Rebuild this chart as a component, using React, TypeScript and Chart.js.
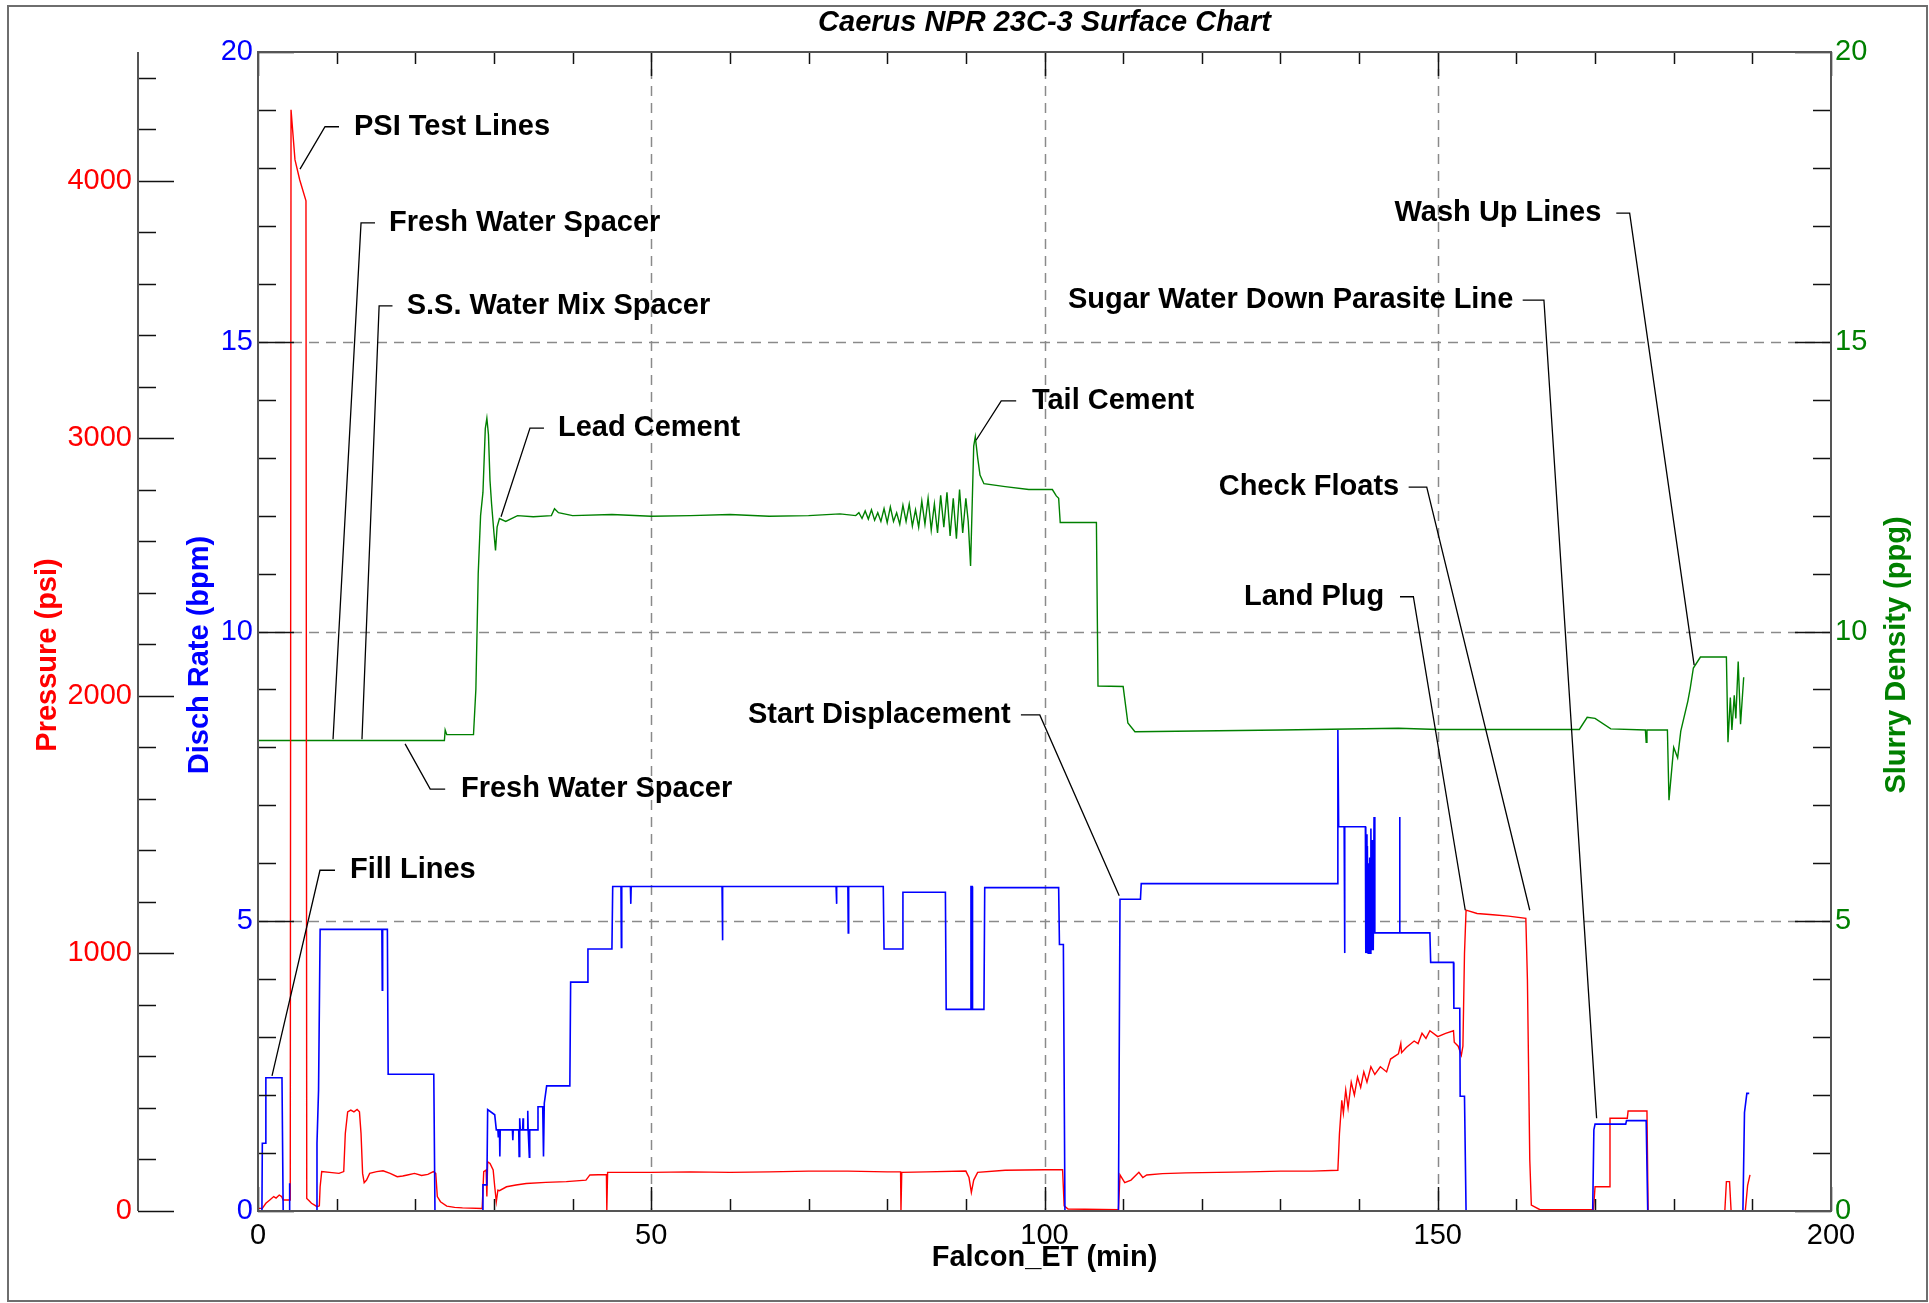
import React, { useEffect, useRef } from "react";
import { Chart, registerables } from "chart.js";

Chart.register(...registerables);

const W = 1929;
const H = 1303;
const FONT = '"Liberation Sans", Arial, Helvetica, sans-serif';

// ---------------- data ----------------
const chartTitle = "Caerus NPR 23C-3 Surface Chart";
const xTitle = "Falcon_ET (min)";
const pressureTitle = "Pressure (psi)";
const rateTitle = "Disch Rate (bpm)";
const densityTitle = "Slurry Density (ppg)";

const xTickLabels = [0, 50, 100, 150, 200];
const pressureTickLabels = [0, 1000, 2000, 3000, 4000];
const rateTickLabels = [0, 5, 10, 15, 20];
const densityTickLabels = [0, 5, 10, 15, 20];

const pressureTime = [
  0, 0.55, 1.0, 1.5, 2.0, 2.3, 2.7, 3.0, 3.2, 4.1, 4.2, 4.7, 5.3, 6.1, 6.2, 6.5, 6.8, 7.2, 7.5, 7.8,
  7.9, 8.1, 9.4, 10.3, 10.9, 11.1, 11.4, 11.8, 12.2, 12.6, 12.9, 13.1, 13.3, 13.5, 13.8, 14.2, 15.1, 15.9, 16.8, 17.7,
  18.4, 19.0, 19.9, 20.8, 21.6, 22.3, 22.6, 22.8, 23.2, 24.0, 25.0, 26.0, 28.5, 28.7, 29.0, 29.1, 29.2, 29.5, 29.9, 30.1,
  30.3, 30.5, 30.7, 31.6, 32.8, 34.1, 36.6, 39.2, 41.7, 42.2, 44.3, 44.35, 44.45, 50, 55, 60, 65, 70, 75, 80,
  81.7, 81.75, 81.85, 85, 90, 90.4, 90.7, 91.0, 91.5, 95, 100, 102.3, 102.5, 103, 109.4, 109.6, 110.2, 111, 112, 112.5,
  113, 115, 118, 122, 126, 130, 134, 137.3, 137.5, 137.8, 138.0, 138.3, 138.6, 139, 139.4, 139.8, 140.2, 140.6, 141, 141.5,
  142, 142.7, 143.5, 144, 145, 145.3, 145.4, 146, 147, 147.5, 148, 148.5, 149, 150, 151, 152, 152.1, 152.6, 153.0, 153.2,
  153.4, 153.6, 155, 157, 159, 161.2, 161.4, 161.7, 161.9, 163, 169.8, 170.0, 171.8, 171.9, 174.1, 174.2, 176.6, 176.75, 186.5, 186.7,
  187.1, 187.3, 189.1, 189.4, 189.7,
];
const pressurePsi = [
  10, 10, 30, 43, 56, 50, 62, 56, 43, 43, 4276, 4082, 4004, 3922, 49, 40, 30, 23, 17, 20,
  94, 153, 149, 146, 153, 301, 385, 392, 385, 394, 385, 301, 146, 110, 120, 146, 153, 156, 146, 133,
  136, 140, 146, 138, 142, 153, 146, 56, 36, 19, 14, 12, 10, 153, 159, 56, 191, 185, 159, 94,
  36, 81, 79, 94, 101, 107, 111, 114, 120, 140, 142, 0, 150, 150, 152, 150, 152, 155, 155, 152,
  152, 0, 150, 152, 155, 130, 72, 120, 150, 158, 160, 160, 20, 8, 5, 140, 110, 120, 150, 130,
  140, 145, 148, 150, 152, 155, 155, 158, 300, 430, 380, 470, 400, 500, 450, 520, 480, 540, 500, 560,
  530, 560, 540, 590, 610, 650, 615, 635, 660, 650, 690, 670, 700, 677, 690, 700, 655, 640, 605, 640,
  1000, 1168, 1155, 1150, 1145, 1136, 900, 200, 23, 5, 5, 94, 94, 360, 360, 388, 388, 0, 0, 114,
  114, 0, 0, 100, 140,
];

const rateTime = [
  0, 0.5, 0.55, 0.95, 1.0, 3.05, 3.2, 3.95, 4.0, 4.05, 7.45, 7.5, 7.7, 7.9, 15.75, 15.8, 15.85, 16.45, 16.55, 22.35,
  22.5, 28.5, 28.6, 29.1, 29.2, 30.1, 30.3, 30.5, 30.55, 30.6, 30.7, 30.75, 30.8, 32.35, 32.4, 32.45, 33.15, 33.2, 33.25, 33.3,
  33.35, 33.65, 33.7, 33.75, 34.25, 34.3, 34.35, 34.45, 34.5, 34.55, 35.55, 35.6, 36.2, 36.3, 36.4, 36.7, 39.65, 39.75, 41.85, 41.95,
  45.0, 45.1, 46.15, 46.2, 46.25, 47.35, 47.4, 47.45, 59.0, 59.05, 59.1, 73.5, 73.55, 73.6, 75.0, 75.05, 75.1, 79.5, 79.6, 81.9,
  82.0, 87.4, 87.5, 90.6, 90.65, 90.8, 90.85, 92.3, 92.4, 101.8, 101.9, 102.4, 102.6, 109.4, 109.6, 112.2, 112.3, 137.2, 137.3, 137.4,
  138.1, 138.15, 138.2, 140.8, 140.85, 140.9, 141.0, 141.05, 141.15, 141.2, 141.3, 141.35, 141.45, 141.5, 141.6, 141.7, 141.8, 141.9, 142.0, 145.1,
  145.15, 145.2, 149.0, 149.1, 152.0, 152.05, 152.8, 152.85, 153.4, 153.6, 169.7, 169.85, 170.0, 173.9, 174.0, 176.5, 176.7, 188.8, 189.0, 189.3,
  189.6,
];
const rateBpm = [
  0, 0, 1.17, 1.17, 2.3, 2.3, 0, 0, 0.48, 0, 0, 1.17, 2.09, 4.86, 4.86, 3.81, 4.86, 4.86, 2.36, 2.36,
  0, 0, 0.45, 0.45, 1.75, 1.66, 1.4, 1.4, 1.28, 1.4, 1.4, 0.94, 1.4, 1.4, 1.22, 1.4, 1.4, 0.94, 1.4, 1.6,
  1.4, 1.4, 1.6, 1.4, 1.4, 1.73, 1.4, 1.4, 0.93, 1.4, 1.4, 1.8, 1.8, 0.94, 1.86, 2.16, 2.16, 3.95, 3.95, 4.52,
  4.52, 5.6, 5.6, 4.55, 5.6, 5.6, 5.3, 5.6, 5.6, 4.67, 5.6, 5.6, 5.3, 5.6, 5.6, 4.8, 5.6, 5.6, 4.52, 4.52,
  5.5, 5.5, 3.48, 3.48, 5.6, 5.6, 3.48, 3.48, 5.58, 5.58, 4.6, 4.6, 0, 0, 5.38, 5.38, 5.65, 5.65, 8.3, 6.63,
  6.63, 4.45, 6.63, 6.63, 4.45, 6.5, 4.45, 6.3, 4.45, 6.0, 4.45, 6.1, 4.45, 6.6, 4.5, 6.4, 4.5, 6.8, 4.8, 4.8,
  6.8, 4.8, 4.8, 4.29, 4.29, 3.5, 3.5, 1.98, 1.98, 0, 0, 1.4, 1.5, 1.5, 1.56, 1.56, 0, 0, 1.7, 2.03,
  2.03,
];

const densityTime = [
  0, 23.7, 23.8, 24.0, 27.4, 27.7, 28.0, 28.3, 28.6, 28.9, 29.1, 29.3, 29.5, 29.7, 30.0, 30.2, 30.4, 30.7, 31.5, 33,
  35, 37.3, 37.7, 38.2, 40, 45, 50, 55, 60, 65, 70, 74, 76, 76.4, 76.8, 77.2, 77.6, 78, 78.4, 78.8,
  79.2, 79.6, 80, 80.4, 80.8, 81.2, 81.6, 82, 82.4, 82.8, 83.2, 83.6, 84, 84.4, 84.8, 85.2, 85.6, 86, 86.4, 86.8,
  87.2, 87.6, 88, 88.4, 88.8, 89.2, 89.6, 90.0, 90.3, 90.6, 91.0, 91.2, 91.5, 91.8, 92.3, 95, 98, 101, 101.5, 101.8,
  102.0, 106.6, 106.8, 110.0, 110.6, 111.5, 130, 145, 150, 168, 169, 170, 172, 176.4, 176.5, 176.6, 179.2, 179.4, 180, 180.5,
  180.9, 181.8, 182.1, 182.5, 183.4, 186.7, 186.9, 187.2, 187.4, 187.7, 187.9, 188.2, 188.5, 188.9,
];
const densityPpg = [
  8.12, 8.12, 8.3, 8.22, 8.22, 9.0, 11.0, 12.0, 12.4, 13.5, 13.68, 13.4, 12.6, 12.2, 11.7, 11.4, 11.8, 11.95, 11.9, 12.0,
  11.98, 12.0, 12.12, 12.05, 12.0, 12.02, 11.99, 12.0, 12.02, 11.99, 12.0, 12.03, 12.0, 12.05, 11.95, 12.08, 11.94, 12.1, 11.92, 12.05,
  11.9, 12.12, 11.88, 12.15, 11.9, 12.05, 11.85, 12.18, 11.9, 12.2, 11.82, 12.1, 11.8, 12.25, 11.85, 12.3, 11.75, 12.2, 11.7, 12.35,
  11.8, 12.4, 11.65, 12.3, 11.6, 12.45, 11.7, 12.3, 11.9, 11.13, 13.2, 13.36, 13.0, 12.7, 12.55, 12.5, 12.45, 12.45, 12.34, 12.3,
  11.88, 11.88, 9.06, 9.05, 8.42, 8.27, 8.3, 8.33, 8.31, 8.31, 8.52, 8.5, 8.32, 8.3, 8.09, 8.3, 8.3, 7.09, 8.0, 7.82,
  8.28, 8.8, 9.02, 9.37, 9.56, 9.56, 8.09, 8.86, 8.3, 8.9, 8.5, 9.48, 8.4, 9.21,
];

// annotations: label, side the text sits on, text edge x / y, leader segment x range, pointer (data units: min, rate/density scale)
const noteText = [
  "PSI Test Lines",
  "Fresh Water Spacer",
  "S.S. Water Mix Spacer",
  "Lead Cement",
  "Tail Cement",
  "Fresh Water Spacer",
  "Fill Lines",
  "Start Displacement",
  "Land Plug",
  "Check Floats",
  "Sugar Water Down Parasite Line",
  "Wash Up Lines",
];
const noteSide = ["L", "L", "L", "L", "L", "L", "L", "R", "R", "R", "R", "R"];
const noteAnchor = [
  [12.2, 18.71, 10.3, 8.52, 5.34, 17.98],
  [16.66, 17.05, 14.88, 13.1, 9.54, 8.14],
  [18.9, 15.62, 17.1, 15.4, 13.22, 8.14],
  [38.14, 13.51, 36.36, 34.58, 30.9, 11.98],
  [98.4, 13.98, 96.4, 94.5, 91.3, 13.3],
  [25.8, 7.28, 23.8, 21.9, 18.7, 8.06],
  [11.7, 5.88, 9.79, 7.88, 1.78, 2.33],
  [95.7, 8.56, 97.0, 99.4, 109.5, 5.44],
  [143.2, 10.6, 145.2, 146.9, 153.5, 5.19],
  [145.1, 12.49, 146.3, 148.6, 161.7, 5.19],
  [159.6, 15.72, 160.8, 163.5, 170.2, 1.6],
  [170.8, 17.22, 172.7, 174.4, 182.6, 9.42],
];

const zip = (xs: number[], ys: number[]) => xs.map((x, i) => ({ x, y: ys[i] }));

const RED = "#ff0000";
const BLUE = "#0000ff";
const GREEN = "#008000";

const decorPlugin = {
  id: "decor",
  beforeDatasetsDraw(chart: any) {
    const { ctx, chartArea: a, scales } = chart;
    const sx = scales.x;
    const sr = scales.rate;
    ctx.save();
    ctx.strokeStyle = "#8a8a8a";
    ctx.lineWidth = 1.5;
    ctx.setLineDash([10, 7]);
    for (const v of xTickLabels) {
      if (v === sx.min || v === sx.max) continue;
      const p = Math.round(sx.getPixelForValue(v)) + 0.5;
      ctx.beginPath();
      ctx.moveTo(p, a.top);
      ctx.lineTo(p, a.bottom);
      ctx.stroke();
    }
    for (const v of rateTickLabels) {
      if (v === sr.min || v === sr.max) continue;
      const p = Math.round(sr.getPixelForValue(v)) + 0.5;
      ctx.beginPath();
      ctx.moveTo(a.left, p);
      ctx.lineTo(a.right, p);
      ctx.stroke();
    }
    ctx.restore();
  },
  afterDatasetsDraw(chart: any) {
    const { ctx, chartArea: a, scales } = chart;
    const sx = scales.x;
    const sp = scales.pressure;
    const sr = scales.rate;
    const sd = scales.density;
    const pAxisX = 138;
    ctx.save();

    const seg = (x1: number, y1: number, x2: number, y2: number) => {
      ctx.beginPath();
      ctx.moveTo(x1, y1);
      ctx.lineTo(x2, y2);
      ctx.stroke();
    };

    // outer border
    ctx.strokeStyle = "#6e6e6e";
    ctx.lineWidth = 2;
    ctx.strokeRect(8, 6, 1919, 1295);

    // ticks
    ctx.strokeStyle = "#111";
    ctx.lineWidth = 1.5;
    for (let v = sx.min; v <= sx.max + 1e-9; v += 10) {
      const p = Math.round(sx.getPixelForValue(v)) + 0.5;
      const len = v % 50 === 0 ? 24 : 12;
      seg(p, a.bottom, p, a.bottom - len);
      seg(p, a.top, p, a.top + len);
    }
    for (let v = sr.min; v <= sr.max + 1e-9; v += 1) {
      const p = Math.round(sr.getPixelForValue(v)) + 0.5;
      const len = v % 5 === 0 ? 36 : 18;
      seg(a.left, p, a.left + len, p);
    }
    for (let v = sd.min; v <= sd.max + 1e-9; v += 1) {
      const p = Math.round(sd.getPixelForValue(v)) + 0.5;
      const len = v % 5 === 0 ? 36 : 18;
      seg(a.right, p, a.right - len, p);
    }
    for (let v = sp.min; v <= sp.max - 1; v += 200) {
      const p = Math.round(sp.getPixelForValue(v)) + 0.5;
      const len = v % 1000 === 0 ? 36 : 18;
      seg(pAxisX, p, pAxisX + len, p);
    }

    // axis lines / frame
    ctx.strokeStyle = "#555";
    ctx.lineWidth = 2;
    ctx.strokeRect(a.left, a.top, a.right - a.left, a.bottom - a.top);
    seg(pAxisX, a.top, pAxisX, a.bottom);

    // tick labels
    ctx.font = `29px ${FONT}`;
    ctx.textBaseline = "middle";
    ctx.fillStyle = "#000";
    ctx.textAlign = "center";
    for (const v of xTickLabels) ctx.fillText(String(v), sx.getPixelForValue(v), a.bottom + 25);
    ctx.fillStyle = RED;
    ctx.textAlign = "right";
    for (const v of pressureTickLabels) ctx.fillText(String(v), pAxisX - 6, sp.getPixelForValue(v));
    ctx.fillStyle = BLUE;
    for (const v of rateTickLabels) ctx.fillText(String(v), a.left - 5, sr.getPixelForValue(v));
    ctx.fillStyle = GREEN;
    ctx.textAlign = "left";
    for (const v of densityTickLabels) ctx.fillText(String(v), a.right + 4, sd.getPixelForValue(v));

    // titles
    const cy = 655;
    const vtext = (t: string, x: number, y: number, color: string) => {
      ctx.save();
      ctx.translate(x, y);
      ctx.rotate(-Math.PI / 2);
      ctx.fillStyle = color;
      ctx.textAlign = "center";
      ctx.textBaseline = "middle";
      ctx.font = `bold 29px ${FONT}`;
      ctx.fillText(t, 0, 0);
      ctx.restore();
    };
    vtext(pressureTitle, 48, cy, RED);
    vtext(rateTitle, 200, cy, BLUE);
    vtext(densityTitle, 1897, cy, GREEN);

    ctx.fillStyle = "#000";
    ctx.textAlign = "center";
    ctx.font = `bold 29px ${FONT}`;
    ctx.fillText(xTitle, (a.left + a.right) / 2, a.bottom + 47);
    ctx.font = `italic bold 29px ${FONT}`;
    ctx.fillText(chartTitle, (a.left + a.right) / 2, 23);

    // annotations
    ctx.font = `bold 29px ${FONT}`;
    ctx.strokeStyle = "#000";
    ctx.lineWidth = 1.3;
    noteText.forEach((t, i) => {
      const [tx, ty, s1, s2, px, py] = noteAnchor[i];
      const X = sx.getPixelForValue(tx);
      const Y = sr.getPixelForValue(ty);
      const S1 = sx.getPixelForValue(s1);
      const S2 = sx.getPixelForValue(s2);
      const PX = sx.getPixelForValue(px);
      const PY = sr.getPixelForValue(py);
      ctx.beginPath();
      ctx.moveTo(S1, Y);
      ctx.lineTo(S2, Y);
      ctx.lineTo(PX, PY);
      ctx.stroke();
      ctx.fillStyle = "#000";
      ctx.textAlign = noteSide[i] === "L" ? "left" : "right";
      ctx.fillText(t, X, Y);
    });

    ctx.restore();
  },
};

export default function App() {
  const ref = useRef<HTMLCanvasElement | null>(null);
  useEffect(() => {
    if (!ref.current) return;
    const chart = new Chart(ref.current, {
      type: "line",
      data: {
        datasets: [
          {
            label: "Disch Rate",
            data: zip(rateTime, rateBpm),
            yAxisID: "rate",
            borderColor: BLUE,
            borderWidth: 1.6,
            pointRadius: 0,
            tension: 0,
            order: 1,
          },
          {
            label: "Pressure",
            data: zip(pressureTime, pressurePsi),
            yAxisID: "pressure",
            borderColor: RED,
            borderWidth: 1.4,
            pointRadius: 0,
            tension: 0,
            order: 2,
          },
          {
            label: "Slurry Density",
            data: zip(densityTime, densityPpg),
            yAxisID: "density",
            borderColor: GREEN,
            borderWidth: 1.4,
            pointRadius: 0,
            tension: 0,
            order: 3,
          },
        ],
      },
      options: {
        responsive: false,
        animation: false,
        devicePixelRatio: 1,
        events: [],
        layout: { padding: { left: 258, right: W - 1831, top: 52, bottom: H - 1211 } },
        plugins: { legend: { display: false }, tooltip: { enabled: false }, title: { display: false } },
        scales: {
          x: { type: "linear", min: 0, max: 200, display: false },
          pressure: { type: "linear", position: "left", min: 0, max: 4500, display: false },
          rate: { type: "linear", position: "left", min: 0, max: 20, display: false },
          density: { type: "linear", position: "right", min: 0, max: 20, display: false },
        },
      },
      plugins: [decorPlugin],
    } as any);
    return () => chart.destroy();
  }, []);
  return (
    <div style={{ position: "fixed", left: 0, top: 0, width: W, height: H, background: "#fff" }}>
      <canvas ref={ref} width={W} height={H} style={{ display: "block", width: W, height: H }} />
    </div>
  );
}
